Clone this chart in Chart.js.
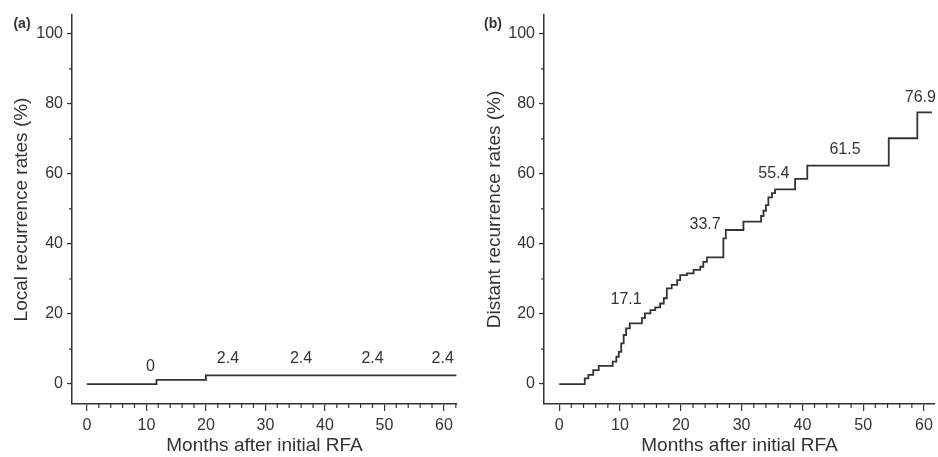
<!DOCTYPE html>
<html lang="en">
<head>
<meta charset="utf-8"/>
<title>Local and distant recurrence after initial RFA</title>
<script src="https://cdn.jsdelivr.net/npm/chart.js@4.4.1/dist/chart.umd.min.js"></script>
<style>
  body { margin: 0; background: #fff; }
  #wrap { position: relative; width: 938px; height: 457px; }
  #wrap canvas { position: absolute; top: 0; }
</style>
</head>
<body>
<div id="wrap">
  <canvas id="chartA" width="469" height="457" style="left:0"></canvas>
  <canvas id="chartB" width="469" height="457" style="left:469px"></canvas>
</div>
<script>
// (a) local recurrence: month where the rate steps, rate from then on (%)
var localMonths = [0, 11.7, 20, 62.1];
var localRates  = [0, 1.2, 2.5, 2.5];

// (b) distant recurrence
var distantMonths = [0, 4.2, 4.8, 5.6, 6.5, 8.8, 9.4, 9.8, 10.2, 10.6, 11.0, 11.6,
  13.6, 14.1, 15.0, 15.8, 16.6, 17.2, 17.7, 18.5, 19.4, 19.9, 21.0, 22.1, 23.2,
  23.7, 24.3, 27.0, 27.4, 30.3, 33.2, 33.6, 34.0, 34.4, 35.0, 35.5, 38.8, 40.8,
  54.2, 58.9, 61.3];
var distantRates = [0, 1.6, 2.6, 4.0, 5.2, 6.4, 7.8, 9.2, 11.6, 14.0, 15.9, 17.3,
  18.8, 20.2, 21.1, 21.9, 23.0, 24.5, 27.3, 28.3, 29.7, 31.1, 31.6, 32.6, 33.5,
  34.9, 36.2, 41.6, 44.0, 46.4, 48.0, 49.5, 51.1, 53.3, 54.5, 55.6, 58.6, 62.4,
  70.2, 77.6, 77.6];

var xTicks = [0, 10, 20, 30, 40, 50, 60];
var yTicks = [0, 20, 40, 60, 80, 100];

// figures printed above the curves
var localNoteMonths = [10.7, 23.7, 36, 48, 59.8];
var localNoteRates  = [5.1, 7.4, 7.4, 7.4, 7.4];
var localNotes      = ["0", "2.4", "2.4", "2.4", "2.4"];

var distantNoteMonths = [11.0, 24.0, 35.3, 47.0, 59.4];
var distantNoteRates  = [24.2, 45.4, 60.2, 66.9, 81.7];
var distantNotes      = ["17.1", "33.7", "55.4", "61.5", "76.9"];

var ink = "#333";
Chart.defaults.font.family = "'Liberation Sans', Arial, Helvetica, sans-serif";
Chart.defaults.color = ink;

// minor ticks, the printed figures and the panel letter
var extras = {
  id: "extras",
  afterDraw: function (chart) {
    var o = chart.options.plugins.extras;
    var ctx = chart.ctx, x = chart.scales.x, y = chart.scales.y;
    ctx.save();
    ctx.strokeStyle = ink;
    ctx.lineWidth = 1.2;
    ctx.beginPath();
    for (var m = 2; m < x.max; m += 2) {
      if (m % 10 === 0) continue;
      var px = x.getPixelForValue(m);
      ctx.moveTo(px, y.bottom);
      ctx.lineTo(px, y.bottom + 4);
    }
    for (var v = 10; v < 100; v += 20) {
      var py = y.getPixelForValue(v);
      ctx.moveTo(x.left, py);
      ctx.lineTo(x.left - 3, py);
    }
    ctx.stroke();

    ctx.fillStyle = ink;
    ctx.textAlign = "center";
    ctx.textBaseline = "middle";
    ctx.font = "16px 'Liberation Sans', Arial, sans-serif";
    o.noteMonths.forEach(function (mo, i) {
      ctx.fillText(o.notes[i], x.getPixelForValue(mo), y.getPixelForValue(o.noteRates[i]));
    });

    ctx.font = "bold 14px 'Liberation Sans', Arial, sans-serif";
    ctx.fillText(o.letter, o.letterX, 24);
    ctx.restore();
  }
};

function makeChart(id, months, rates, opts) {
  return new Chart(document.getElementById(id), {
    type: "line",
    data: {
      datasets: [{
        data: months.map(function (m, i) { return { x: m, y: rates[i] }; }),
        stepped: true,
        borderColor: ink,
        borderWidth: 1.8,
        pointRadius: 0,
        fill: false
      }]
    },
    options: {
      responsive: false,
      animation: false,
      devicePixelRatio: 1,
      layout: { padding: { top: 15, right: opts.padRight, left: 0, bottom: 0 } },
      plugins: {
        legend: { display: false },
        tooltip: { enabled: false },
        extras: {
          noteMonths: opts.noteMonths, noteRates: opts.noteRates, notes: opts.notes,
          letter: opts.letter, letterX: opts.letterX
        }
      },
      scales: {
        x: {
          type: "linear",
          min: -2.5,
          max: opts.xMax,
          afterBuildTicks: function (s) { s.ticks = xTicks.map(function (v) { return { value: v }; }); },
          afterFit: function (s) { s.height = 53; },
          grid: { drawOnChartArea: false, tickLength: 7, color: ink, lineWidth: 1.2 },
          border: { color: ink, width: 1.5 },
          ticks: { autoSkip: false, maxRotation: 0, font: { size: 16 }, padding: 5 },
          title: {
            display: true, text: "Months after initial RFA",
            font: { size: 19 }, padding: { top: 0, bottom: 0 }
          }
        },
        y: {
          type: "linear",
          min: -5.7,
          max: 105.4,
          afterBuildTicks: function (s) { s.ticks = yTicks.map(function (v) { return { value: v }; }); },
          afterFit: function (s) { s.width = opts.axisLeft; },
          grid: { drawOnChartArea: false, tickLength: 5, color: ink, lineWidth: 1.2 },
          border: { color: ink, width: 1.5 },
          ticks: { autoSkip: false, font: { size: 16 }, padding: 4 },
          title: {
            display: true, text: opts.yTitle,
            font: { size: 19 }, padding: { top: opts.titlePad, bottom: 0 }
          }
        }
      }
    },
    plugins: [extras]
  });
}

makeChart("chartA", localMonths, localRates, {
  yTitle: "Local recurrence rates (%)", axisLeft: 72, padRight: 12, xMax: 62.2, titlePad: 10,
  noteMonths: localNoteMonths, noteRates: localNoteRates, notes: localNotes,
  letter: "(a)", letterX: 22
});

makeChart("chartB", distantMonths, distantRates, {
  yTitle: "Distant recurrence rates (%)", axisLeft: 75, padRight: 3, xMax: 61.8, titlePad: 14,
  noteMonths: distantNoteMonths, noteRates: distantNoteRates, notes: distantNotes,
  letter: "(b)", letterX: 24
});
</script>
</body>
</html>
